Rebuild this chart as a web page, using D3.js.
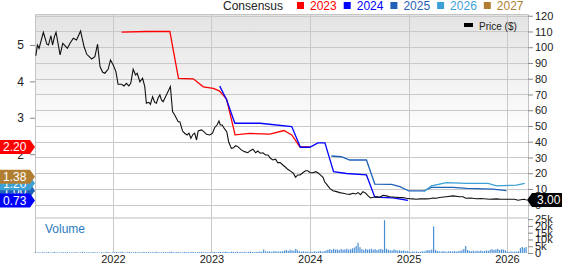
<!DOCTYPE html>
<html>
<head>
<meta charset="utf-8">
<script src="https://cdn.jsdelivr.net/npm/d3@7"></script>
<style>
  body { margin: 0; background: #fff; }
  svg { display: block; font-family: "Liberation Sans", Arial, sans-serif; }
</style>
</head>
<body>
<div id="chart"></div>
<script>
var width = 562;
var height = 264;

// closing price ($)
var priceSeries = [
  ["2021-03-21", 94.6], ["2021-03-27", 101.4], ["2021-04-02", 99.3], ["2021-04-18", 109.5],
  ["2021-05-01", 101.9], ["2021-05-07", 101.4], ["2021-05-16", 107.3], ["2021-05-22", 101.4],
  ["2021-05-29", 106.7], ["2021-06-04", 109.5], ["2021-06-19", 95.1], ["2021-06-29", 102.5],
  ["2021-07-07", 101.0], ["2021-07-16", 99.3], ["2021-07-26", 102.5], ["2021-08-07", 105.7],
  ["2021-08-19", 104.6], ["2021-09-03", 110.3], ["2021-09-16", 100.3], ["2021-09-26", 95.5],
  ["2021-10-05", 94.0], ["2021-10-14", 92.5], ["2021-10-26", 94.0], ["2021-11-05", 101.9],
  ["2021-11-14", 87.7], ["2021-11-24", 84.1], ["2021-12-02", 83.5], ["2021-12-14", 86.0],
  ["2021-12-23", 91.9], ["2022-01-02", 88.7], ["2022-01-12", 84.5], ["2022-01-20", 76.5],
  ["2022-02-02", 76.5], ["2022-02-11", 75.4], ["2022-02-20", 77.1], ["2022-03-01", 75.4],
  ["2022-03-08", 77.1], ["2022-03-17", 86.0], ["2022-03-26", 82.4], ["2022-04-01", 83.5],
  ["2022-04-11", 78.1], ["2022-04-21", 80.3], ["2022-04-29", 75.0], ["2022-05-05", 64.4],
  ["2022-05-14", 65.0], ["2022-05-20", 63.8], ["2022-05-28", 68.6], ["2022-06-05", 65.0],
  ["2022-06-11", 64.4], ["2022-06-17", 67.6], ["2022-06-24", 69.7], ["2022-06-30", 66.5],
  ["2022-07-06", 65.4], ["2022-07-15", 68.6], ["2022-07-24", 71.8], ["2022-08-02", 75.0],
  ["2022-08-10", 59.1], ["2022-08-18", 57.0], ["2022-08-31", 52.7], ["2022-09-06", 52.7],
  ["2022-09-16", 46.8], ["2022-09-24", 45.4], ["2022-10-03", 44.3], ["2022-10-10", 45.4],
  ["2022-10-17", 42.2], ["2022-10-25", 44.7], ["2022-10-31", 45.4], ["2022-11-07", 41.1],
  ["2022-11-13", 46.8], ["2022-11-25", 47.5], ["2022-12-04", 46.4], ["2022-12-14", 44.7],
  ["2022-12-26", 44.3], ["2023-01-05", 45.4], ["2023-01-13", 48.9], ["2023-01-22", 50.6],
  ["2023-01-29", 53.2], ["2023-02-03", 50.6], ["2023-02-10", 50.6], ["2023-02-19", 48.1],
  ["2023-02-27", 46.4], ["2023-03-06", 40.0], ["2023-03-16", 35.8], ["2023-03-24", 36.2],
  ["2023-04-01", 37.5], ["2023-04-09", 36.9], ["2023-04-22", 34.8], ["2023-05-04", 33.7],
  ["2023-05-16", 33.0], ["2023-05-25", 34.3], ["2023-06-04", 35.2], ["2023-06-14", 33.0],
  ["2023-06-22", 34.1], ["2023-07-01", 32.7], ["2023-07-11", 33.0], ["2023-07-21", 31.6],
  ["2023-07-30", 31.6], ["2023-08-08", 29.5], ["2023-08-17", 28.4], ["2023-08-27", 28.9],
  ["2023-09-04", 26.7], ["2023-09-13", 26.7], ["2023-09-23", 25.2], ["2023-10-03", 23.8],
  ["2023-10-11", 22.5], ["2023-10-24", 21.0], ["2023-11-01", 20.0], ["2023-11-09", 17.4],
  ["2023-11-17", 18.9], ["2023-11-26", 18.9], ["2023-12-06", 20.3], ["2023-12-16", 21.6],
  ["2023-12-24", 21.6], ["2024-01-03", 20.3], ["2024-01-13", 20.3], ["2024-01-23", 21.0],
  ["2024-01-31", 20.3], ["2024-02-09", 18.9], ["2024-02-19", 17.4], ["2024-02-25", 14.6],
  ["2024-03-05", 12.6], ["2024-03-15", 10.4], ["2024-03-27", 8.9], ["2024-04-09", 8.3],
  ["2024-04-21", 7.7], ["2024-05-03", 7.3], ["2024-05-16", 6.8], ["2024-05-28", 6.6],
  ["2024-06-09", 7.3], ["2024-06-19", 6.8], ["2024-06-28", 7.7], ["2024-07-07", 6.4],
  ["2024-07-16", 8.3], ["2024-07-26", 7.3], ["2024-08-04", 5.6], ["2024-08-13", 4.3],
  ["2024-08-23", 4.7], ["2024-09-04", 5.1], ["2024-09-16", 4.7], ["2024-09-28", 6.0],
  ["2024-10-11", 5.6], ["2024-10-23", 5.1], ["2024-11-04", 4.9], ["2024-11-17", 4.7],
  ["2024-11-29", 4.5], ["2024-12-11", 4.5], ["2024-12-24", 4.1], ["2025-01-05", 3.8],
  ["2025-01-17", 3.7], ["2025-01-30", 3.5], ["2025-02-11", 3.7], ["2025-02-23", 3.8],
  ["2025-03-08", 3.7], ["2025-03-20", 3.8], ["2025-04-01", 4.3], ["2025-04-14", 4.1],
  ["2025-04-26", 4.6], ["2025-05-21", 5.1], ["2025-06-15", 5.6], ["2025-07-09", 5.1],
  ["2025-07-22", 5.1], ["2025-08-01", 4.1], ["2025-08-20", 4.3], ["2025-09-09", 3.8],
  ["2025-09-25", 3.9], ["2025-10-29", 3.5], ["2025-11-22", 3.7], ["2025-12-10", 3.5],
  ["2026-01-11", 3.5], ["2026-01-29", 3.5], ["2026-02-11", 2.8], ["2026-03-04", 3.5],
  ["2026-03-15", 3.0]
];

// consensus EPS estimates by fiscal year
var est2023 = [
  ["2022-02-02", 5.35], ["2022-05-05", 5.37], ["2022-07-31", 5.37], ["2022-09-01", 4.08],
  ["2022-10-26", 4.07], ["2022-11-19", 3.93], ["2022-12-02", 3.85], ["2023-01-08", 3.81],
  ["2023-01-30", 3.74], ["2023-02-26", 3.52], ["2023-03-30", 2.53], ["2023-05-24", 2.57],
  ["2023-08-06", 2.55], ["2023-09-27", 2.65], ["2023-10-26", 2.53], ["2023-11-25", 2.20],
  ["2024-01-01", 2.20]
];
var est2024 = [
  ["2023-02-01", 3.87], ["2023-02-26", 3.50], ["2023-03-29", 2.85], ["2023-06-30", 2.85],
  ["2023-10-26", 2.76], ["2023-11-27", 2.19], ["2024-01-01", 2.19], ["2024-01-31", 2.31],
  ["2024-02-26", 2.31], ["2024-03-29", 1.52], ["2024-05-16", 1.47], ["2024-07-29", 1.43],
  ["2024-08-29", 0.82], ["2024-11-04", 0.80], ["2024-12-30", 0.73]
];
var est2025 = [
  ["2024-03-21", 1.95], ["2024-04-27", 1.93], ["2024-05-28", 1.84], ["2024-07-29", 1.84],
  ["2024-08-29", 1.18], ["2024-10-30", 1.17], ["2024-11-30", 1.11], ["2025-01-02", 0.99],
  ["2025-02-26", 0.99], ["2025-03-27", 1.09], ["2025-06-15", 1.09], ["2025-08-04", 1.06],
  ["2025-11-10", 1.04], ["2025-12-30", 1.00]
];
var est2026 = [
  ["2025-02-26", 0.97], ["2025-03-27", 1.13], ["2025-05-22", 1.22], ["2025-08-04", 1.20],
  ["2025-10-23", 1.20], ["2025-11-23", 1.13], ["2026-02-05", 1.15], ["2026-03-08", 1.20]
];
var est2027 = [["2026-03-08", 1.38]];

var consensusYears = ["2023", "2024", "2025", "2026", "2027"];
var consensusColors = ["#ff0000", "#0000ff", "#1f62b8", "#3c9fd6", "#b27f32"];
var consensusSeries = [est2023, est2024, est2025, est2026, est2027];

// weekly volume (thousands), first week ending 2021-03-19
var volStart = "2021-03-19";
var vol2021 = [0.6, 0.4, 0.5, 0.3, 0.7, 0.4, 0.5, 0.6, 0.3, 0.4, 0.8, 0.5, 0.4, 0.3, 0.6, 0.5, 0.4, 0.7, 0.3, 0.5, 0.4,
  0.6, 0.5, 0.3, 0.4, 0.9, 0.5, 0.4, 0.6, 0.3, 0.5, 0.7, 0.4, 0.5, 0.3, 0.6, 0.4, 0.5, 0.8, 0.4, 0.3, 0.5];
var vol2022 = [0.5, 0.7, 0.4, 0.6, 0.9, 0.5, 0.4, 0.6, 0.8, 0.5, 0.4, 0.7, 0.5, 0.6, 0.4, 0.8, 0.6, 0.5, 0.7, 0.4, 0.6,
  0.5, 0.9, 0.6, 0.4, 0.5, 0.7, 0.6, 0.5, 0.8, 1.0, 0.6, 0.5, 0.7, 0.6, 0.4, 0.5, 0.8, 0.6, 0.7, 0.5, 0.9, 0.6, 0.5,
  0.7, 0.6, 0.8, 0.5, 0.6, 0.7, 0.5, 0.6];
var vol2023 = [0.6, 0.8, 0.5, 0.7, 0.9, 0.6, 0.8, 1.0, 0.7, 0.6, 0.9, 0.8, 0.7, 1.0, 0.6, 0.8, 0.7, 0.9, 0.6, 0.8, 1.0,
  0.7, 0.6, 0.9, 0.8, 1.1, 0.9, 2.6, 1.2, 1.0, 1.3, 0.9, 1.1, 1.4, 1.0, 1.2, 1.1, 1.3, 1.8, 2.2, 1.6, 2.4, 1.9, 1.7,
  3.0, 2.0, 1.2, 1.0, 1.3, 0.9, 1.1, 0.8];
var vol2024 = [1.0, 0.8, 1.2, 0.9, 1.1, 1.5, 1.0, 1.3, 1.8, 2.4, 2.8, 2.2, 3.0, 2.5, 2.7, 2.1, 2.9, 2.4, 2.6, 3.1, 2.3,
  2.8, 3.4, 4.0, 5.2, 7.6, 4.3, 2.8, 2.2, 3.0, 2.5, 2.7, 3.2, 2.4, 2.9, 2.1, 2.6, 3.0, 2.5, 24.2, 3.1, 2.4, 2.0, 1.8,
  2.6, 2.2, 1.7, 2.0, 1.5, 1.9, 1.4, 1.6];
var vol2025 = [1.0, 0.8, 1.2, 0.9, 1.1, 0.7, 1.0, 1.3, 1.1, 1.8, 2.2, 2.0, 2.5, 19.6, 2.3, 1.5, 1.2, 1.0, 1.4, 1.1, 0.9,
  1.3, 1.2, 1.0, 1.5, 1.1, 1.3, 1.6, 2.0, 3.0, 5.2, 2.2, 1.5, 1.3, 1.7, 1.2, 1.6, 1.4, 1.8, 1.3, 1.5, 1.9, 1.6, 2.4,
  2.8, 2.3, 2.6, 3.1, 2.2, 2.7, 2.5, 2.0];
var vol2026 = [1.0, 0.8, 1.2, 0.9, 1.1, 1.0, 1.3, 3.6, 4.5, 3.8, 4.4];

var priceTicks = d3.range(0, 121, 10);
var epsTicks = [1, 2, 3, 4, 5];
var volTicks = [0, 5, 10, 15, 20, 25];

var parse = d3.timeParse("%Y-%m-%d");

var plotLeft = 35, plotRight = 528, plotTop = 14, priceBottom = 217, volTop = 219, volBottom = 253;

var svg = d3
  .select("#chart")
  .append("svg")
  .attr("width", width)
  .attr("height", height);

var x = d3
  .scaleTime()
  .domain([parse("2021-03-18"), parse("2026-03-20")])
  .range([plotLeft, plotRight]);
var yPrice = d3.scaleLinear().domain([-7.8, 121.1]).range([priceBottom, plotTop]);
var yEps = d3.scaleLinear().domain([0.275, 5.85]).range([priceBottom, plotTop]);
var yVol = d3.scaleLinear().domain([0, 25.1]).range([volBottom, volTop]);

var defs = svg.append("defs");
var grad = defs
  .append("linearGradient")
  .attr("id", "bg")
  .attr("x1", 0).attr("y1", 0).attr("x2", 0).attr("y2", 1);
grad.append("stop").attr("offset", "0%").attr("stop-color", "#e3e3e3");
grad.append("stop").attr("offset", "60%").attr("stop-color", "#ffffff");
defs
  .append("clipPath")
  .attr("id", "clip")
  .append("rect")
  .attr("x", plotLeft).attr("y", plotTop)
  .attr("width", plotRight - plotLeft).attr("height", priceBottom - plotTop);

// panels
svg.append("rect")
  .attr("x", plotLeft).attr("y", plotTop)
  .attr("width", plotRight - plotLeft).attr("height", priceBottom - plotTop)
  .attr("fill", "url(#bg)");
svg.append("rect")
  .attr("x", plotLeft).attr("y", priceBottom)
  .attr("width", plotRight - plotLeft).attr("height", volTop - priceBottom)
  .attr("fill", "#dedede");

// horizontal grid (price ticks)
svg.append("g")
  .selectAll("line")
  .data(priceTicks)
  .enter()
  .append("line")
  .attr("x1", plotLeft).attr("x2", plotRight)
  .attr("y1", function(d) { return Math.round(yPrice(d)) + 0.5; })
  .attr("y2", function(d) { return Math.round(yPrice(d)) + 0.5; })
  .attr("stroke", "#c9c9c9");

// vertical grid (years)
var years = x.ticks(d3.timeYear);
svg.append("g")
  .selectAll("line")
  .data(years)
  .enter()
  .append("line")
  .attr("x1", function(d) { return Math.round(x(d)) + 0.5; })
  .attr("x2", function(d) { return Math.round(x(d)) + 0.5; })
  .attr("y1", plotTop).attr("y2", volBottom)
  .attr("stroke", "#c9c9c9");

// frame
svg.append("path")
  .attr("d", "M" + (plotLeft + 0.5) + "," + volBottom + "V" + (plotTop + 0.5) + "H" + (plotRight + 0.5) + "V" + volBottom)
  .attr("fill", "none")
  .attr("stroke", "#c4c4c4");

// volume
var volValues = vol2021.concat(vol2022, vol2023, vol2024, vol2025, vol2026);
var volData = volValues.map(function(v, i) {
  return { date: d3.timeDay.offset(parse(volStart), 7 * i), v: v };
});
svg.append("g")
  .selectAll("rect")
  .data(volData)
  .enter()
  .append("rect")
  .attr("x", function(d) { return x(d.date) - 0.6; })
  .attr("width", 1.2)
  .attr("y", function(d) { return yVol(d.v); })
  .attr("height", function(d) { return volBottom - yVol(d.v); })
  .attr("fill", "#4a8fd4");

svg.append("text")
  .attr("x", 45).attr("y", 233)
  .attr("font-size", 12)
  .attr("fill", "#2b7bc0")
  .text("Volume");

// consensus lines
var epsLine = d3.line()
  .x(function(d) { return x(parse(d[0])); })
  .y(function(d) { return yEps(d[1]); });
var lines = svg.append("g").attr("clip-path", "url(#clip)");
consensusSeries.forEach(function(s, i) {
  lines.append("path")
    .datum(s)
    .attr("d", epsLine)
    .attr("fill", "none")
    .attr("stroke", consensusColors[i])
    .attr("stroke-width", 1.3);
});

// price line
var priceLine = d3.line()
  .x(function(d) { return x(parse(d[0])); })
  .y(function(d) { return yPrice(d[1]); });
lines.append("path")
  .datum(priceSeries)
  .attr("d", priceLine)
  .attr("fill", "none")
  .attr("stroke", "#111")
  .attr("stroke-width", 1.1);

// axes
function styleAxis(g, size) {
  g.select(".domain").remove();
  g.selectAll("line").attr("stroke", "#888");
  g.selectAll("text").attr("font-size", size).attr("fill", "#222").attr("font-family", null);
}
svg.append("g")
  .attr("transform", "translate(" + plotRight + ",0)")
  .call(d3.axisRight(yPrice).tickValues(priceTicks).tickSize(5).tickPadding(2))
  .call(styleAxis, 11);
svg.append("g")
  .attr("transform", "translate(" + plotRight + ",0)")
  .call(d3.axisRight(yVol).tickValues(volTicks).tickSize(5).tickPadding(2)
    .tickFormat(function(d) { return d ? d + "k" : "0"; }))
  .call(styleAxis, 11);
svg.append("g")
  .attr("transform", "translate(" + plotLeft + ",0)")
  .call(d3.axisLeft(yEps).tickValues(epsTicks).tickSize(5).tickPadding(6)
    .tickFormat(d3.format("d")))
  .call(styleAxis, 12);
svg.append("g")
  .attr("transform", "translate(0," + volBottom + ")")
  .call(d3.axisBottom(x).ticks(d3.timeYear).tickSize(0).tickPadding(2)
    .tickFormat(d3.timeFormat("%Y")))
  .call(styleAxis, 11);

// left flags (last consensus values), stacked 2025, 2026, 2027, 2024, 2023
var flagOrder = [2, 3, 4, 1, 0];
flagOrder.forEach(function(i) {
  var s = consensusSeries[i];
  var v = s[s.length - 1][1];
  var cy = yEps(v);
  svg.append("path")
    .attr("d", "M0," + (cy - 7) + "H30L35," + cy + "L30," + (cy + 7) + "H0Z")
    .attr("fill", consensusColors[i]);
  svg.append("text")
    .attr("x", 3).attr("y", cy + 4.5)
    .attr("font-size", 12)
    .attr("fill", "#fff")
    .text(d3.format(".2f")(v));
});

// price flag
var lastPrice = priceSeries[priceSeries.length - 1][1];
var py = yPrice(lastPrice);
svg.append("path")
  .attr("d", "M527," + py + "L532," + (py - 7) + "H562V" + (py + 7) + "H532Z")
  .attr("fill", "#000");
svg.append("text")
  .attr("x", 537).attr("y", py + 4.5)
  .attr("font-size", 12)
  .attr("fill", "#fff")
  .text(d3.format(".2f")(lastPrice));

// legend
var legend = svg.append("g").attr("font-size", 12);
legend.append("text").attr("x", 223).attr("y", 10).attr("fill", "#222").text("Consensus");
var cur = 297;
consensusYears.forEach(function(yr, i) {
  legend.append("rect")
    .attr("x", cur).attr("y", 2).attr("width", 7).attr("height", 7)
    .attr("fill", consensusColors[i]);
  var t = legend.append("text")
    .attr("x", cur + 13).attr("y", 10)
    .attr("fill", consensusColors[i])
    .text(yr);
  cur = cur + 13 + t.node().getComputedTextLength() + 7;
});

svg.append("rect")
  .attr("x", 464).attr("y", 23).attr("width", 9).attr("height", 4)
  .attr("fill", "#000");
svg.append("text")
  .attr("x", 479).attr("y", 30)
  .attr("font-size", 10)
  .attr("fill", "#222")
  .text("Price ($)");
</script>
</body>
</html>
